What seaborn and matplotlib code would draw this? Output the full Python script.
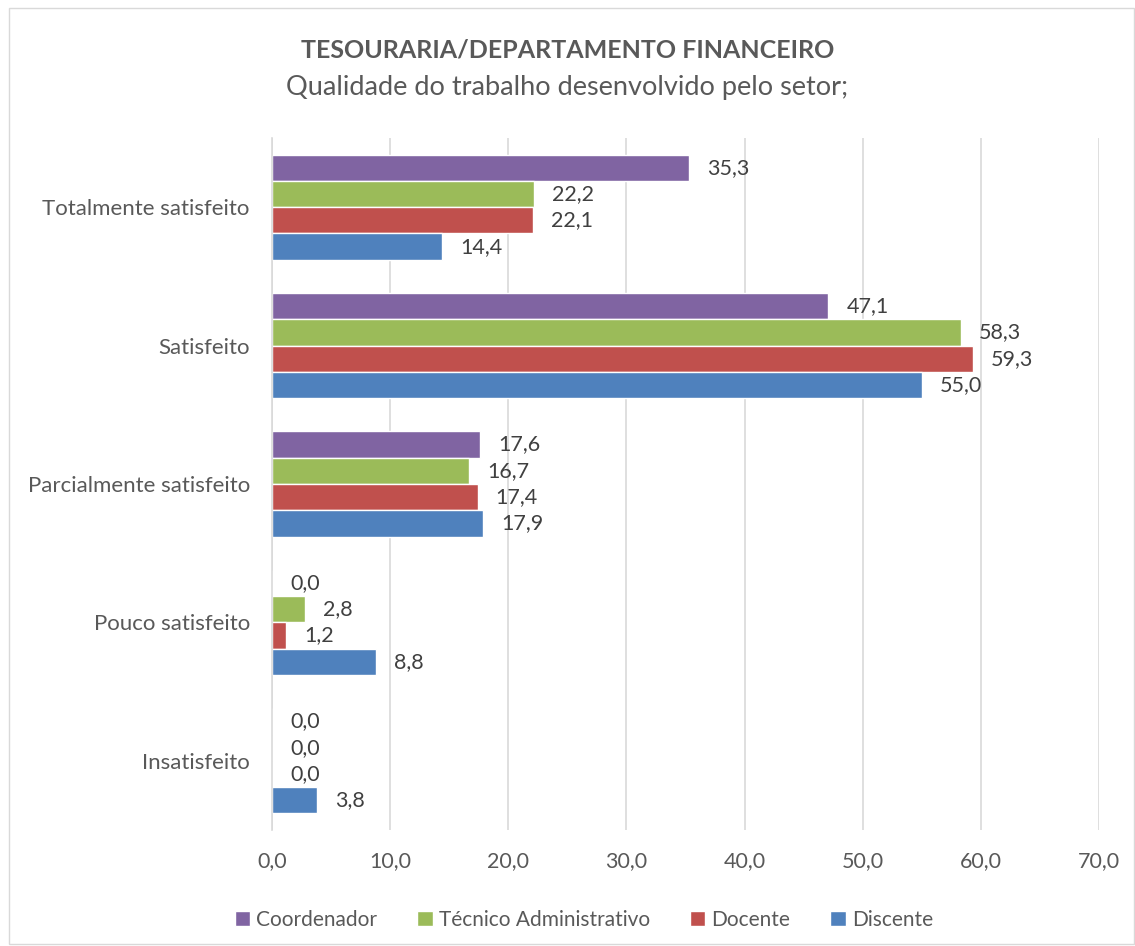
import pandas as pd
import matplotlib.pyplot as plt
import seaborn as sns
from matplotlib.patches import Rectangle

categorias = ['Totalmente satisfeito', 'Satisfeito', 'Parcialmente satisfeito',
              'Pouco satisfeito', 'Insatisfeito']
grupos = ['Coordenador', 'Técnico Administrativo', 'Docente', 'Discente']
coordenador = [35.3, 47.1, 17.6, 0.0, 0.0]
tecnico = [22.2, 58.3, 16.7, 2.8, 0.0]
docente = [22.1, 59.3, 17.4, 1.2, 0.0]
discente = [14.4, 55.0, 17.9, 8.8, 3.8]
cores = ['#8064A2', '#9BBB59', '#C0504D', '#4F81BD']
ticks = [0, 10, 20, 30, 40, 50, 60, 70]

valores = {'Coordenador': coordenador, 'Técnico Administrativo': tecnico,
           'Docente': docente, 'Discente': discente}
linhas = []
for g in grupos:
    for c, v in zip(categorias, valores[g]):
        linhas.append({'categoria': c, 'grupo': g, 'valor': v})
df = pd.DataFrame(linhas)

sns.set_style('white')
plt.rcParams['font.family'] = ['Lato', 'DejaVu Sans']
cinza = '#595959'

fig = plt.figure(figsize=(11.35, 9.46), dpi=100)
ax = fig.add_axes([272 / 1135, 1 - 830 / 946, (1099 - 272) / 1135, (830 - 138) / 946])

sns.barplot(data=df, y='categoria', x='valor', hue='grupo', order=categorias,
            hue_order=grupos, palette=cores, orient='h', width=0.76,
            saturation=1, ax=ax, legend=True)

for cont in ax.containers:
    ax.bar_label(cont, labels=[f'{v:.1f}'.replace('.', ',') for v in cont.datavalues],
                 padding=13, fontsize=15.5, color='#404040')

ax.set_xlim(0, 70)
ax.set_xticks(ticks)
ax.set_xticklabels([f'{t:.1f}'.replace('.', ',') for t in ticks], fontsize=15.5, color=cinza)
ax.tick_params(axis='y', labelsize=16, labelcolor=cinza, length=0, pad=16)
ax.tick_params(axis='x', length=0, pad=15)
ax.set_xlabel('')
ax.set_ylabel('')
ax.grid(axis='x', color='#D9D9D9', linewidth=1.2)
ax.set_axisbelow(True)
for s in ['top', 'right', 'bottom']:
    ax.spines[s].set_visible(False)
ax.spines['left'].set_color('#D9D9D9')
ax.spines['left'].set_linewidth(1.2)

ax.legend(loc='upper center', bbox_to_anchor=(0.377, -0.088), ncol=4, frameon=False,
          fontsize=15, labelcolor=cinza, handlelength=0.75, handleheight=0.75,
          handletextpad=0.3, columnspacing=1.9)

fig.text(0.5, 1 - 50 / 946, 'TESOURARIA/DEPARTAMENTO FINANCEIRO', ha='center', va='center',
         fontsize=18, fontweight='bold', color=cinza)
fig.text(0.5, 1 - 88 / 946, 'Qualidade do trabalho desenvolvido pelo setor;', ha='center',
         va='center', fontsize=19.5, color=cinza)

fig.patches.append(Rectangle((9 / 1135, 0.002), 1 - 10 / 1135, 0.99, transform=fig.transFigure,
                             fill=False, edgecolor='#D9D9D9', linewidth=1))

fig.savefig('out.png', dpi=100)
